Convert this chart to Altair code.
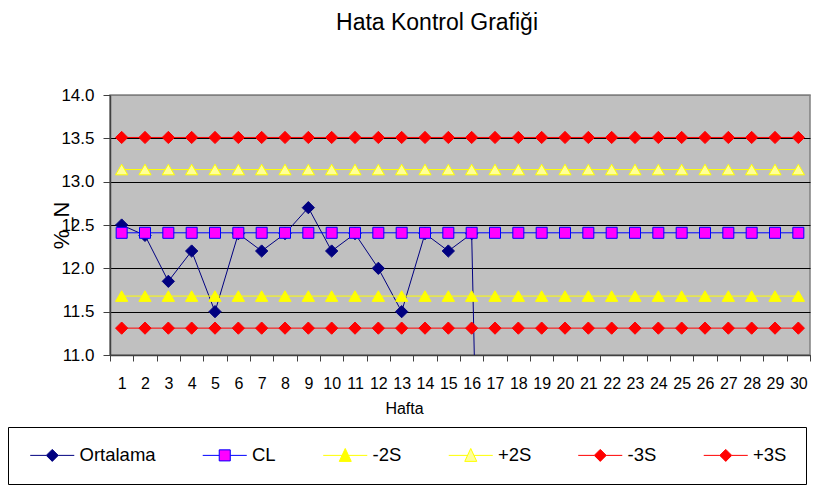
import altair as alt
import pandas as pd

FONT = "Liberation Sans"

weeks = list(range(1, 31))
ortalama = [12.5, 12.38, 11.85, 12.2, 11.5, 12.4, 12.2, 12.4, 12.7, 12.2,
            12.4, 12.0, 11.5, 12.4, 12.2, 12.4, 0, 0, 0, 0,
            0, 0, 0, 0, 0, 0, 0, 0, 0, 0]
cl = [12.41] * 30
minus2s = [11.68] * 30
plus2s = [13.14] * 30
minus3s = [11.31] * 30
plus3s = [13.51] * 30

series_names = ["Ortalama", "CL", "-2S", "+2S", "-3S", "+3S"]
series_values = [ortalama, cl, minus2s, plus2s, minus3s, plus3s]
line_colors = ["#000080", "#0000FF", "#FFFF00", "#FFFF00", "#FF0000", "#FF0000"]
fill_colors = ["#000080", "#FF00FF", "#FFFF00", "#FFFF99", "#FF0000", "#FF0000"]
shapes = ["diamond", "square", "triangle-up", "triangle-up", "diamond", "diamond"]
sizes = [150, 121, 150, 150, 150, 150]

# legend symbols: short line with the marker in the middle
diamond_path = "M-3.67,0L-1,0M1,0L3.67,0M0,-1L1,0L0,1L-1,0Z"
square_path = "M-3.67,0L-0.92,0M0.92,0L3.67,0M-0.92,-0.92L0.92,-0.92L0.92,0.92L-0.92,0.92Z"
triangle_path = "M-3.67,0L-0.53,0M0.53,0L3.67,0M0,-1.15L1,1L-1,1Z"
legend_paths = [diamond_path, square_path, triangle_path, triangle_path, diamond_path, diamond_path]

rows = []
for name, vals in zip(series_names, series_values):
    for w, v in zip(weeks, vals):
        rows.append({"series": name, "week": w, "value": v})
df = pd.DataFrame(rows)

x_enc = alt.X(
    "week:O",
    title="Hafta",
    scale=alt.Scale(type="band", paddingInner=0, paddingOuter=0),
    axis=alt.Axis(
        labelAngle=0, labelFont=FONT, labelFontSize=16, labelColor="black",
        labelPadding=14, tickBand="extent", tickSize=6, tickColor="#404040",
        domainColor="#404040", domainWidth=1.5, grid=False,
        titleFont=FONT, titleFontSize=16, titleFontWeight="normal", titleColor="black",
        titleX=294, titleY=53, titleBaseline="middle", titleAlign="center",
    ),
)
y_enc = alt.Y(
    "value:Q",
    title="%_N",
    scale=alt.Scale(domain=[11, 14], nice=False, zero=False),
    axis=alt.Axis(
        values=[11, 11.5, 12, 12.5, 13, 13.5, 14], format=".1f",
        labelFont=FONT, labelFontSize=17, labelColor="black", labelPadding=9,
        tickSize=7, tickColor="#404040", domainColor="#404040", domainWidth=1.5,
        grid=True,
        gridColor={"condition": {"test": "datum.value >= 14", "value": "#808080"}, "value": "black"},
        gridWidth=1,
        titleFont=FONT, titleFontSize=22, titleFontWeight="normal", titleColor="black",
        titleX=-49, titleY=130, titleBaseline="middle", titleAlign="center", titleAngle=-90,
    ),
)

base = alt.Chart(df)
layers = []
for name, lc, fc, shp, sz in zip(series_names, line_colors, fill_colors, shapes, sizes):
    sub = base.transform_filter(alt.FieldEqualPredicate(field="series", equal=name))
    layers.append(sub.mark_line(color=lc, strokeWidth=1, clip=True).encode(x=x_enc, y=y_enc))
    layers.append(
        sub.mark_point(shape=shp, filled=True, fill=fc, stroke=lc, strokeWidth=1,
                       size=sz, opacity=1, clip=True).encode(x=x_enc, y=y_enc)
    )

legend = alt.Legend(
    title=None, orient="none", legendX=-102, legendY=332, direction="horizontal",
    columns=6, symbolSize=144, symbolOffset=16, labelOffset=18, columnPadding=43.5,
    padding=19, strokeColor="black", fillColor="white", labelFont=FONT,
    labelFontSize=18.5, labelColor="black", symbolStrokeWidth=1, symbolOpacity=1,
)
legend_layer = base.mark_point(filled=True, opacity=0).encode(
    x=x_enc, y=y_enc,
    shape=alt.Shape("series:N", scale=alt.Scale(domain=series_names, range=legend_paths), legend=legend),
    fill=alt.Fill("series:N", scale=alt.Scale(domain=series_names, range=fill_colors), legend=legend),
    stroke=alt.Stroke("series:N", scale=alt.Scale(domain=series_names, range=line_colors), legend=legend),
)

chart = alt.layer(*layers, legend_layer).properties(
    width=700, height=260,
    autosize=alt.AutoSizeParams(type="none"),
    padding={"left": 102, "top": 87, "right": 14, "bottom": 131},
    title=alt.TitleParams(
        "Hata Kontrol Grafiği", font=FONT, fontSize=23, fontWeight="normal",
        color="black", anchor="middle", dx=-23, offset=33, baseline="alphabetic",
    ),
).configure_view(fill="#C0C0C0", stroke="#808080", strokeWidth=1.5)

chart.save("out.html", embed_options={"renderer": "svg", "actions": False})
